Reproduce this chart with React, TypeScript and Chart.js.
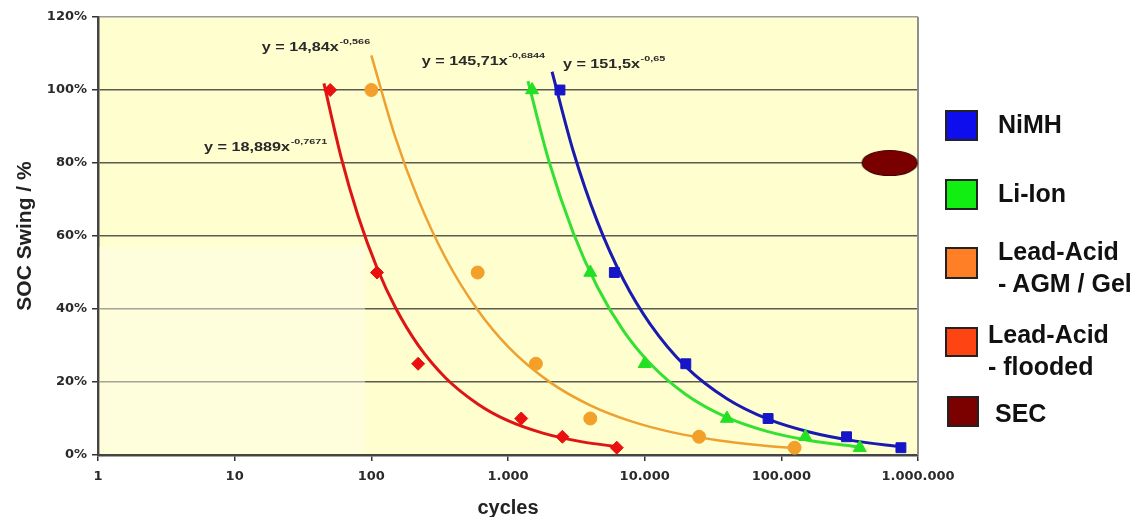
import React, { useEffect, useRef } from "react";
import { Chart, registerables } from "chart.js";

Chart.register(...registerables);

// ---- axis ticks ----
const xTickValues = [1, 10, 100, 1000, 10000, 100000, 1000000];
const xTickLabels = ["1", "10", "100", "1.000", "10.000", "100.000", "1.000.000"];
const yTickValues = [0, 20, 40, 60, 80, 100, 120];
const yTickLabels = ["0%", "20%", "40%", "60%", "80%", "100%", "120%"];

// ---- measured points (SOC swing % vs cycles) ----
const socLevels = [100, 50, 25, 10, 5, 2];
const nimhCycles = [2400, 6000, 20000, 80000, 300000, 750000];
const liIonCycles = [1500, 4000, 10000, 40000, 150000, 375000];
const agmCycles = [100, 600, 1600, 4000, 25000, 125000];
const floodedCycles = [50, 110, 220, 1250, 2500, 6250];
const secCycles = [620000];
const secSoc = [80];

// ---- fitted trend curves ----
const nimhTrendX = [2100, 3000, 4500, 7000, 11000, 20000, 40000, 80000, 160000, 350000, 750000];
const nimhTrendY = [105.0, 83.3, 64.0, 48.0, 35.8, 24.2, 15.4, 9.8, 6.3, 3.8, 2.3];
const liIonTrendX = [1400, 2000, 3000, 4500, 7000, 11000, 20000, 40000, 80000, 160000, 375000];
const liIonTrendY = [102.4, 80.3, 60.9, 46.1, 34.0, 25.0, 16.6, 10.3, 6.4, 4.0, 2.2];
const agmTrendX = [100, 150, 220, 350, 600, 1000, 2000, 4000, 8000, 16000, 35000, 70000, 125000];
const agmTrendY = [109.5, 87.0, 70.1, 53.9, 39.7, 29.7, 20.1, 13.6, 9.2, 6.2, 4.0, 2.7, 1.9];
const floodedTrendX = [45, 60, 80, 110, 150, 220, 350, 600, 1000, 1800, 3500, 6250];
const floodedTrendY = [101.8, 81.7, 65.5, 51.3, 40.4, 30.1, 21.1, 14.0, 9.4, 6.0, 3.6, 2.3];

// ---- trend equations ----
const eqMain = ["y = 14,84x", "y = 18,889x", "y = 145,71x", "y = 151,5x"];
const eqExp = ["-0,566", "-0,7671", "-0,6844", "-0,65"];

// ---- legend ----
const legendNames = [["NiMH"], ["Li-Ion"], ["Lead-Acid", "- AGM / Gel"], ["Lead-Acid", "- flooded"], ["SEC"]];

const FONT = '"Liberation Sans", Arial, Helvetica, sans-serif';

const pts = (xs: number[], ys: number[]) => xs.map((x, i) => ({ x, y: ys[i] }));

export default function App() {
  const ref = useRef<HTMLCanvasElement | null>(null);

  useEffect(() => {
    if (!ref.current) return;

    const ell = document.createElement("canvas");
    ell.width = 58;
    ell.height = 28;
    const ec = ell.getContext("2d")!;
    ec.beginPath();
    ec.ellipse(29, 14, 27.5, 12.5, 0, 0, Math.PI * 2);
    ec.fillStyle = "#7A0000";
    ec.fill();
    ec.lineWidth = 1.2;
    ec.strokeStyle = "#4a0000";
    ec.stroke();

    const eqAnchors = [
      { x: 15.8, y: 110.6 },
      { x: 5.96, y: 83.3 },
      { x: 234, y: 106.8 },
      { x: 2521, y: 106.0 },
    ];

    const plotPlugin = {
      id: "plotDeco",
      beforeDraw(chart: any) {
        const { ctx, chartArea } = chart;
        const { left, top, right, bottom } = chartArea;
        ctx.save();
        ctx.fillStyle = "#FFFECE";
        ctx.fillRect(left, top, right - left, bottom - top);
        ctx.restore();
      },
      beforeDatasetsDraw(chart: any) {
        const { ctx, chartArea, scales } = chart;
        const { left, top, right, bottom } = chartArea;
        ctx.save();
        // lighter patch in lower-left of plot area
        const px = scales.x.getPixelForValue(90);
        const py = scales.y.getPixelForValue(57);
        ctx.fillStyle = "rgba(255,255,238,0.45)";
        ctx.fillRect(left + 1.5, py, px - left - 1.5, bottom - 1.5 - py);
        // right border
        ctx.strokeStyle = "#8f8f8f";
        ctx.lineWidth = 2;
        ctx.beginPath();
        ctx.moveTo(right, top);
        ctx.lineTo(right, bottom);
        ctx.stroke();
        ctx.restore();
      },
      afterDatasetsDraw(chart: any) {
        const { ctx, scales } = chart;
        eqAnchors.forEach((a, i) => {
          const x = scales.x.getPixelForValue(a.x);
          const y = scales.y.getPixelForValue(a.y);
          ctx.save();
          ctx.translate(x, y);
          ctx.scale(1.35, 1);
          ctx.fillStyle = "#2a2a2a";
          ctx.textBaseline = "alphabetic";
          ctx.font = `bold 12px ${FONT}`;
          ctx.fillText(eqMain[i], 0, 0);
          const w = ctx.measureText(eqMain[i]).width;
          ctx.font = `bold 8px ${FONT}`;
          ctx.fillText(eqExp[i], w + 0.5, -7);
          ctx.restore();
        });
      },
    };

    const trend = (xs: number[], ys: number[], color: string, width: number) => ({
      data: pts(xs, ys),
      showLine: true,
      borderColor: color,
      borderWidth: width,
      pointRadius: 0,
      cubicInterpolationMode: "monotone",
      fill: false,
      clip: false,
    });
    const marks = (xs: number[], ys: number[], color: string, style: any, r: number) => ({
      data: pts(xs, ys),
      showLine: false,
      pointStyle: style,
      pointRadius: r,
      backgroundColor: color,
      borderColor: color,
      borderWidth: 1,
      clip: false,
    });

    const chart = new Chart(ref.current, {
      type: "scatter",
      data: {
        datasets: [
          marks(secCycles, secSoc, "#7A0000", ell, 14),
          marks(nimhCycles, socLevels, "#1616C8", "rect", 7),
          marks(liIonCycles, socLevels, "#22E022", "triangle", 7.5),
          marks(agmCycles, socLevels, "#F2A02A", "circle", 6.5),
          marks(floodedCycles, socLevels, "#EA1010", "rectRot", 6.5),
          trend(nimhTrendX, nimhTrendY, "#1A1AB0", 3),
          trend(liIonTrendX, liIonTrendY, "#33E033", 3),
          trend(agmTrendX, agmTrendY, "#EEA030", 2.5),
          trend(floodedTrendX, floodedTrendY, "#DD1515", 3),
        ] as any,
      },
      options: {
        animation: false,
        responsive: false,
        devicePixelRatio: 1,
        events: [],
        layout: { autoPadding: false, padding: { left: 0, top: 9, right: 218, bottom: 0 } },
        plugins: {
          legend: { display: false },
          tooltip: { enabled: false },
        },
        scales: {
          x: {
            type: "logarithmic",
            min: 1,
            max: 1000000,
            afterFit: (s: any) => {
              s.height = 62;
              s.paddingLeft = 0;
              s.paddingRight = 0;
            },
            afterBuildTicks: (s: any) => {
              s.ticks = xTickValues.map((v) => ({ value: v }));
            },
            ticks: {
              autoSkip: false,
              maxRotation: 0,
              padding: 8,
              color: "#2a2a2a",
              font: { family: '"DejaVu Sans", sans-serif', size: 13, weight: "bold" },
              callback: (v: any) => xTickLabels[xTickValues.indexOf(Number(v))],
            },
            grid: {
              drawOnChartArea: false,
              drawTicks: true,
              tickLength: 6,
              tickColor: "#333",
              lineWidth: 1.5,
            },
            border: { display: true, color: "#444", width: 2.5 },
            title: {
              display: true,
              text: "cycles",
              color: "#222",
              font: { family: FONT, size: 20, weight: "bold", lineHeight: 0.9 },
              padding: { top: 0, bottom: 0 },
            },
          },
          y: {
            type: "linear",
            min: 0,
            max: 120,
            afterFit: (s: any) => {
              s.width = 90;
              s.paddingTop = 0;
              s.paddingBottom = 0;
            },
            afterBuildTicks: (s: any) => {
              s.ticks = yTickValues.map((v) => ({ value: v }));
            },
            ticks: {
              padding: 5,
              color: "#2a2a2a",
              font: { family: '"DejaVu Sans", sans-serif', size: 13, weight: "bold" },
              callback: (v: any) => yTickLabels[yTickValues.indexOf(Number(v))],
            },
            grid: {
              color: (c: any) => (c.tick && c.tick.value === 120 ? "#9a9a9a" : "#5a5a50"),
              lineWidth: 1.5,
              drawTicks: true,
              tickLength: 6,
              tickColor: "#333",
            },
            border: { display: true, color: "#444", width: 2.5 },
            title: {
              display: true,
              text: "SOC Swing / %",
              color: "#222",
              font: { family: FONT, size: 21, weight: "bold", lineHeight: 1.2 },
              padding: { top: 5, bottom: 0 },
            },
          },
        },
      },
      plugins: [plotPlugin],
    } as any);

    return () => chart.destroy();
  }, []);

  const legendColors = ["#0D0DED", "#11EE11", "#FF7F27", "#FF4414", "#7B0000"];
  const sq = [
    { l: 937, t: 102, w: 33, h: 31 },
    { l: 937, t: 171, w: 33, h: 31 },
    { l: 937, t: 239, w: 33, h: 32 },
    { l: 937, t: 319, w: 33, h: 30 },
    { l: 939, t: 388, w: 32, h: 31 },
  ];
  const txt = [
    { l: 990, t: 100 },
    { l: 990, t: 169 },
    { l: 990, t: 227 },
    { l: 980, t: 310 },
    { l: 987, t: 389 },
  ];

  return (
    <div style={{ position: "relative", width: 1128, height: 509, overflow: "hidden", fontFamily: FONT }}>
      <canvas ref={ref} width={1128} height={509} style={{ position: "absolute", left: 0, top: 0 }} />
      {legendNames.map((lines, i) => (
        <React.Fragment key={i}>
          <div
            style={{
              position: "absolute",
              left: sq[i].l,
              top: sq[i].t,
              width: sq[i].w,
              height: sq[i].h,
              boxSizing: "border-box",
              background: legendColors[i],
              border: "2px solid #222",
            }}
          />
          <div
            style={{
              position: "absolute",
              left: txt[i].l,
              top: txt[i].t,
              fontSize: 25,
              fontWeight: "bold",
              lineHeight: "32px",
              color: "#111",
              whiteSpace: "nowrap",
            }}
          >
            {lines.map((s, j) => (
              <div key={j}>{s}</div>
            ))}
          </div>
        </React.Fragment>
      ))}
    </div>
  );
}
